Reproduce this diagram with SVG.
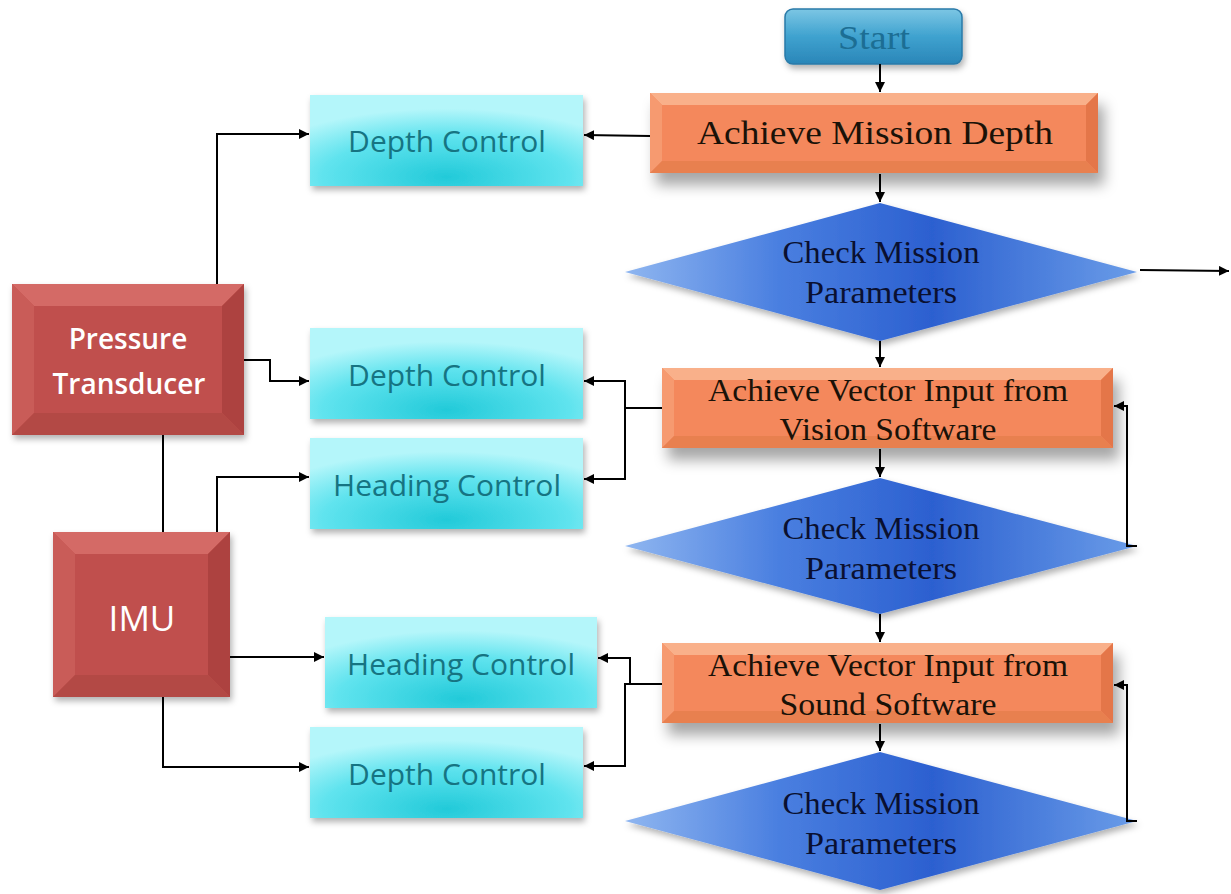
<svg xmlns="http://www.w3.org/2000/svg" width="1231" height="894" viewBox="0 0 1231 894">
<defs>
<marker id="ah" viewBox="0 0 10 10" refX="10" refY="5" markerWidth="10" markerHeight="10" markerUnits="userSpaceOnUse" orient="auto">
<path d="M0,0 L10,5 L0,10 z" fill="#000"/>
</marker>
<filter id="sh" x="-10%" y="-20%" width="130%" height="160%">
<feDropShadow dx="6" dy="12" stdDeviation="7" flood-color="#000" flood-opacity="0.35"/>
</filter>
<filter id="sh2" x="-10%" y="-20%" width="130%" height="150%">
<feDropShadow dx="2" dy="4" stdDeviation="3" flood-color="#000" flood-opacity="0.3"/>
</filter>
<linearGradient id="gStart" x1="0" y1="0" x2="0" y2="1">
<stop offset="0" stop-color="#7cc6e4"/>
<stop offset="0.5" stop-color="#3fa2cf"/>
<stop offset="1" stop-color="#2a86b8"/>
</linearGradient>
<linearGradient id="gDia" x1="0" y1="0" x2="1" y2="0">
<stop offset="0" stop-color="#8fb6f0"/>
<stop offset="0.3" stop-color="#4a7fe0"/>
<stop offset="0.6" stop-color="#2c60d0"/>
<stop offset="1" stop-color="#6a9ce8"/>
</linearGradient>
<radialGradient id="gCyan" cx="0.5" cy="0.9" r="0.75">
<stop offset="0" stop-color="#22cad9"/>
<stop offset="0.6" stop-color="#5fe3ee"/>
<stop offset="1" stop-color="#b4f6fa"/>
</radialGradient>
<style>
.conn{fill:none;stroke:#000;stroke-width:2}
.ser{font-family:"Liberation Serif","DejaVu Serif",serif;fill:#1a1208;text-anchor:middle}
.dia{font-family:"Liberation Serif","DejaVu Serif",serif;fill:#0a1030;text-anchor:middle;font-size:31px}
.cy{font-family:"Open Sans","Noto Sans",sans-serif;fill:#167482;text-anchor:middle;font-size:30px}
.wt{font-family:"Open Sans","Noto Sans",sans-serif;fill:#fff;text-anchor:middle;font-size:28px;font-weight:600}
.or{fill:#f4885c}
.orT{fill:#f9b08a}
.orL{fill:#f69a70}
.orR{fill:#e47648}
.orB{fill:#e88050}
.rd{fill:#c0504d}
.rdT{fill:#d46a66}
.rdL{fill:#c95c58}
.rdR{fill:#ad4340}
.rdB{fill:#b34845}
</style>
</defs>

<g id="start">
<rect x="785" y="9" width="177" height="55" rx="8" fill="url(#gStart)" stroke="#2a7aa8" stroke-width="1.5" filter="url(#sh2)"/>
<text x="874" y="49" class="ser" font-size="33" textLength="72" lengthAdjust="spacingAndGlyphs" style="fill:#1c6e94">Start</text>
</g>

<g id="achieve-depth" filter="url(#sh)">
<rect x="650" y="93" width="448" height="80" class="or"/>
<polygon points="650,93 1098,93 1086,105 662,105" class="orT"/>
<polygon points="650,93 662,105 662,161 650,173" class="orL"/>
<polygon points="1098,93 1098,173 1086,161 1086,105" class="orR"/>
<polygon points="650,173 662,161 1086,161 1098,173" class="orB"/>
</g>
<text x="875" y="144" class="ser" font-size="34" textLength="356" lengthAdjust="spacingAndGlyphs">Achieve Mission Depth</text>

<g id="check1" filter="url(#sh2)">
<polygon points="880,203 1137,272 880,341 625,272" fill="url(#gDia)"/>
</g>
<text x="881" y="263" class="dia" textLength="197" lengthAdjust="spacingAndGlyphs">Check Mission</text>
<text x="881" y="303" class="dia" textLength="152" lengthAdjust="spacingAndGlyphs">Parameters</text>

<g id="achieve-vision" filter="url(#sh)">
<rect x="662" y="368" width="451" height="80" class="or"/>
<polygon points="662,368 1113,368 1101,380 674,380" class="orT"/>
<polygon points="662,368 674,380 674,436 662,448" class="orL"/>
<polygon points="1113,368 1113,448 1101,436 1101,380" class="orR"/>
<polygon points="662,448 674,436 1101,436 1113,448" class="orB"/>
</g>
<text x="888" y="401" class="ser" font-size="31" textLength="360" lengthAdjust="spacingAndGlyphs">Achieve Vector Input from</text>
<text x="888" y="440" class="ser" font-size="31" textLength="217" lengthAdjust="spacingAndGlyphs">Vision Software</text>

<g id="check2" filter="url(#sh2)">
<polygon points="880,478 1137,546 880,614 625,546" fill="url(#gDia)"/>
</g>
<text x="881" y="539" class="dia" textLength="197" lengthAdjust="spacingAndGlyphs">Check Mission</text>
<text x="881" y="579" class="dia" textLength="152" lengthAdjust="spacingAndGlyphs">Parameters</text>

<g id="achieve-sound" filter="url(#sh)">
<rect x="662" y="643" width="451" height="80" class="or"/>
<polygon points="662,643 1113,643 1101,655 674,655" class="orT"/>
<polygon points="662,643 674,655 674,711 662,723" class="orL"/>
<polygon points="1113,643 1113,723 1101,711 1101,655" class="orR"/>
<polygon points="662,723 674,711 1101,711 1113,723" class="orB"/>
</g>
<text x="888" y="676" class="ser" font-size="31" textLength="360" lengthAdjust="spacingAndGlyphs">Achieve Vector Input from</text>
<text x="888" y="715" class="ser" font-size="31" textLength="217" lengthAdjust="spacingAndGlyphs">Sound Software</text>

<g id="check3" filter="url(#sh2)">
<polygon points="880,752 1137,821 880,890 625,821" fill="url(#gDia)"/>
</g>
<text x="881" y="814" class="dia" textLength="197" lengthAdjust="spacingAndGlyphs">Check Mission</text>
<text x="881" y="854" class="dia" textLength="152" lengthAdjust="spacingAndGlyphs">Parameters</text>

<g id="depth1">
<rect x="310" y="95" width="273" height="91" fill="url(#gCyan)" filter="url(#sh2)"/>
<text x="447" y="152" class="cy">Depth Control</text>
</g>
<g id="depth2">
<rect x="310" y="328" width="273" height="91" fill="url(#gCyan)" filter="url(#sh2)"/>
<text x="447" y="386" class="cy">Depth Control</text>
</g>
<g id="heading1">
<rect x="310" y="438" width="273" height="91" fill="url(#gCyan)" filter="url(#sh2)"/>
<text x="447" y="496" class="cy">Heading Control</text>
</g>
<g id="heading2">
<rect x="325" y="617" width="272" height="91" fill="url(#gCyan)" filter="url(#sh2)"/>
<text x="461" y="675" class="cy">Heading Control</text>
</g>
<g id="depth3">
<rect x="310" y="727" width="273" height="91" fill="url(#gCyan)" filter="url(#sh2)"/>
<text x="447" y="785" class="cy">Depth Control</text>
</g>

<g id="pressure">
<g filter="url(#sh2)">
<rect x="12" y="284" width="232" height="151" class="rd"/>
<polygon points="12,284 244,284 222,306 34,306" class="rdT"/>
<polygon points="12,284 34,306 34,413 12,435" class="rdL"/>
<polygon points="244,284 244,435 222,413 222,306" class="rdR"/>
<polygon points="12,435 34,413 222,413 244,435" class="rdB"/>
</g>
<text x="128" y="349" class="wt">Pressure</text>
<text x="129" y="394" class="wt">Transducer</text>
</g>

<g id="imu">
<g filter="url(#sh2)">
<rect x="53" y="532" width="177" height="165" class="rd"/>
<polygon points="53,532 230,532 208,554 75,554" class="rdT"/>
<polygon points="53,532 75,554 75,675 53,697" class="rdL"/>
<polygon points="230,532 230,697 208,675 208,554" class="rdR"/>
<polygon points="53,697 75,675 208,675 230,697" class="rdB"/>
</g>
<text x="142" y="631" class="wt" style="font-weight:400;font-size:35px">IMU</text>
</g>

<g id="connectors">
<line x1="880" y1="64" x2="880" y2="92" class="conn" marker-end="url(#ah)"/>
<line x1="880" y1="174" x2="880" y2="202" class="conn" marker-end="url(#ah)"/>
<line x1="880" y1="341" x2="880" y2="367" class="conn" marker-end="url(#ah)"/>
<line x1="880" y1="449" x2="880" y2="477" class="conn" marker-end="url(#ah)"/>
<line x1="880" y1="614" x2="880" y2="642" class="conn" marker-end="url(#ah)"/>
<line x1="880" y1="724" x2="880" y2="751" class="conn" marker-end="url(#ah)"/>
<line x1="1140" y1="270" x2="1229" y2="271" class="conn" marker-end="url(#ah)"/>
<polyline points="1137,546 1127,546 1127,406 1114,406" class="conn" marker-end="url(#ah)"/>
<polyline points="1137,821 1127,821 1127,685 1114,685" class="conn" marker-end="url(#ah)"/>
<line x1="650" y1="136" x2="584" y2="135" class="conn" marker-end="url(#ah)"/>
<polyline points="662,408 625,408 625,381 584,381" class="conn" marker-end="url(#ah)"/>
<polyline points="625,408 625,479 584,479" class="conn" marker-end="url(#ah)"/>
<polyline points="662,684 630,684 630,658 598,658" class="conn" marker-end="url(#ah)"/>
<polyline points="630,684 625,684 625,766 584,766" class="conn" marker-end="url(#ah)"/>
<polyline points="217,284 217,134 309,134" class="conn" marker-end="url(#ah)"/>
<polyline points="244,360 270,360 270,381 309,381" class="conn" marker-end="url(#ah)"/>
<line x1="163" y1="435" x2="163" y2="532" class="conn"/>
<polyline points="217,532 217,477 309,477" class="conn" marker-end="url(#ah)"/>
<line x1="230" y1="657" x2="324" y2="657" class="conn" marker-end="url(#ah)"/>
<polyline points="163,697 163,767 309,767" class="conn" marker-end="url(#ah)"/>
</g>
</svg>
